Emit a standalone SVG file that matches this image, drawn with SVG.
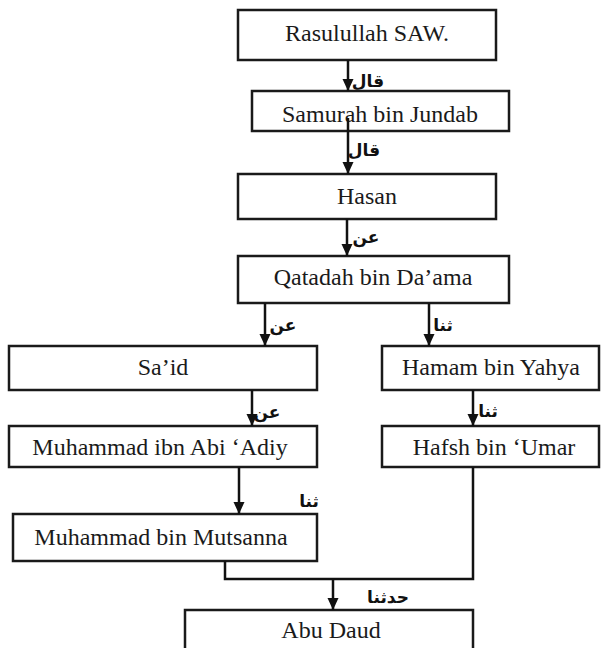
<svg xmlns="http://www.w3.org/2000/svg" width="603" height="648" viewBox="0 0 603 648">
<style>
.box{fill:#fff;stroke:#1a1a1a;stroke-width:2.5}
.t{font-family:"Liberation Serif","Times New Roman",serif;font-size:24px;fill:#1a1a1a;text-anchor:middle}
.ar{font-family:"DejaVu Sans",sans-serif;font-size:17px;font-weight:bold;fill:#111;text-anchor:middle}
.c{fill:none;stroke:#111;stroke-width:2.5}
</style>
<defs>
<marker id="ah" markerUnits="userSpaceOnUse" markerWidth="13" markerHeight="12" refX="12" refY="6" orient="auto" viewBox="0 0 13 12">
<path d="M0,0.5 L12,6 L0,11.5 Z" fill="#111"/>
</marker>
</defs>
<rect width="603" height="648" fill="#fff"/>
<g id="n-rasulullah"><rect class="box" x="238" y="10" width="258" height="50"/><text class="t" x="367" y="41">Rasulullah SAW.</text></g>
<g id="n-samurah"><rect class="box" x="252" y="91" width="257" height="40"/><text class="t" x="380" y="122">Samurah bin Jundab</text></g>
<g id="n-hasan"><rect class="box" x="238" y="174" width="258" height="45"/><text class="t" x="367" y="204">Hasan</text></g>
<g id="n-qatadah"><rect class="box" x="238" y="256" width="271" height="47"/><text class="t" x="373" y="285">Qatadah bin Da’ama</text></g>
<g id="n-said"><rect class="box" x="9" y="346" width="308" height="44"/><text class="t" x="163" y="375">Sa’id</text></g>
<g id="n-hamam"><rect class="box" x="382" y="346" width="217" height="44"/><text class="t" x="491" y="375">Hamam bin Yahya</text></g>
<g id="n-adiy"><rect class="box" x="9" y="426" width="308" height="41"/><text class="t" x="160" y="455">Muhammad ibn Abi ‘Adiy</text></g>
<g id="n-hafsh"><rect class="box" x="382" y="426" width="217" height="41"/><text class="t" x="494" y="455">Hafsh bin ‘Umar</text></g>
<g id="n-mutsanna"><rect class="box" x="13" y="514" width="304" height="47"/><text class="t" x="161" y="545">Muhammad bin Mutsanna</text></g>
<g id="n-abudaud"><rect class="box" x="185" y="610" width="288" height="50"/><text class="t" x="331" y="638">Abu Daud</text></g>
<g id="connectors">
<line class="c" x1="348" y1="60" x2="348" y2="91" marker-end="url(#ah)"/>
<line class="c" x1="348" y1="118" x2="348" y2="174" marker-end="url(#ah)"/>
<line class="c" x1="347" y1="219" x2="347" y2="256" marker-end="url(#ah)"/>
<line class="c" x1="265" y1="303" x2="265" y2="346" marker-end="url(#ah)"/>
<line class="c" x1="429" y1="303" x2="429" y2="346" marker-end="url(#ah)"/>
<line class="c" x1="252" y1="390" x2="252" y2="426" marker-end="url(#ah)"/>
<line class="c" x1="473" y1="390" x2="473" y2="426" marker-end="url(#ah)"/>
<line class="c" x1="239" y1="467" x2="239" y2="514" marker-end="url(#ah)"/>
<polyline class="c" points="225,561 225,579 473,579 473,467"/>
<line class="c" x1="333" y1="579" x2="333" y2="610" marker-end="url(#ah)"/>
<text class="ar" x="368" y="87">قال</text>
<text class="ar" x="364" y="156">قال</text>
<text class="ar" x="366" y="243">عن</text>
<text class="ar" x="283" y="331">عن</text>
<text class="ar" x="443" y="331">ثنا</text>
<text class="ar" x="267" y="418">عن</text>
<text class="ar" x="488" y="417">ثنا</text>
<text class="ar" x="309" y="507">ثنا</text>
<text class="ar" x="388" y="603">حدثنا</text>
</g>
</svg>
